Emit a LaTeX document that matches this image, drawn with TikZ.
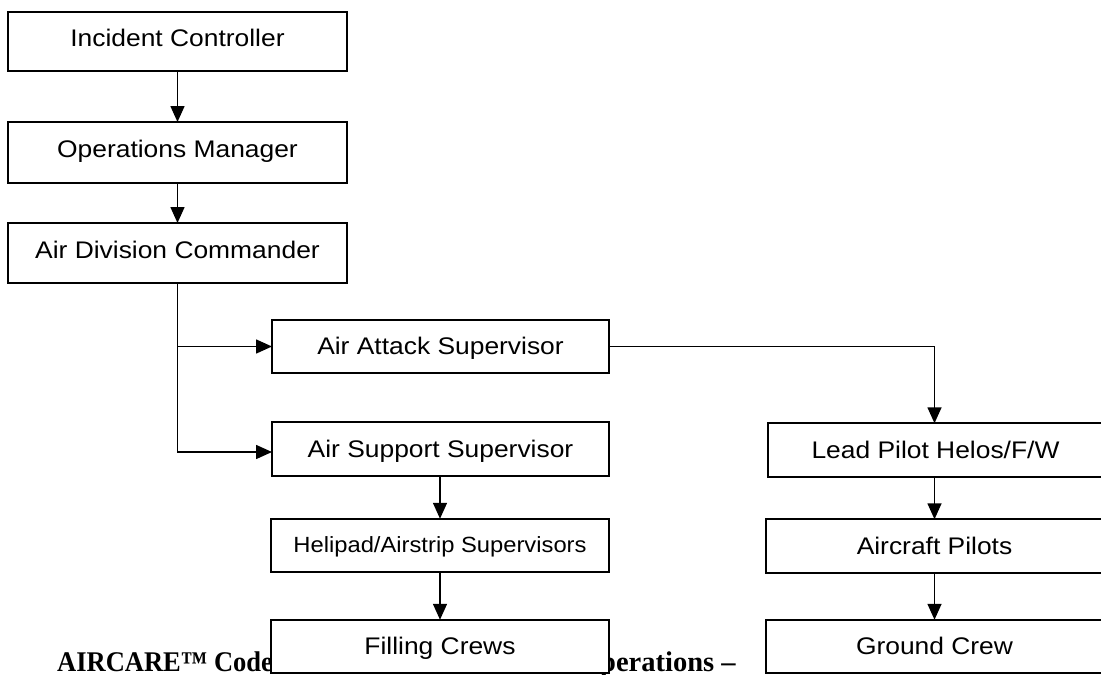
\documentclass[tikz,border=0pt]{standalone}
\usepackage{fontspec}
\setmainfont{Liberation Sans}
\newfontfamily\boxfont[FakeStretch=1.1]{Liberation Sans}
\newfontfamily\boxfontn[FakeStretch=1.08]{Liberation Sans}
\newfontfamily\titlefont[FakeStretch=0.93]{Liberation Serif}
\newfontfamily\titlefontb{Liberation Serif}
\usetikzlibrary{arrows.meta}
\tikzset{
  orgbox/.style={draw, fill=white, line width=2pt, inner sep=0pt, outer sep=0pt,
    font=\boxfont\fontsize{24}{24}\selectfont, text height=17pt},
  bigbox/.style={orgbox, minimum width=339pt, minimum height=60pt, text depth=7pt},
  midbox/.style={orgbox, minimum width=337pt, minimum height=53.5pt, text depth=0.5pt},
  smallfont/.style={font=\boxfontn\fontsize{22}{22}\selectfont, text depth=4pt},
  link/.style={line width=1.6pt, -{Triangle[length=16pt,width=14pt]}},
  titletext/.style={inner sep=0pt, anchor=base west, text=black}
}
\begin{document}
\begin{tikzpicture}[x=1pt, y=-1pt]
\useasboundingbox (0,0) rectangle (1101,675);
% background title (partly hidden by the boxes)
\node[titletext, font=\titlefont\bfseries\fontsize{28.5}{28.5}\selectfont] (t1) at (57,671) {AIRCARE™ Code};
\node[titletext, font=\titlefontb\bfseries\fontsize{28.5}{28.5}\selectfont] (t2) at (600,671) {perations –};
% boxes
\node[bigbox, minimum height=59pt] (ic) at (177.5,41.5) {Incident Controller};
\node[bigbox, minimum height=61pt, text depth=8pt] (om) at (177.5,152.5) {Operations Manager};
\node[bigbox] (adc) at (177.5,253) {Air Division Commander};
\node[midbox] (aa) at (440.5,346.5) {Air Attack Supervisor};
\node[midbox] (as) at (440.5,449) {Air Support Supervisor\hspace{28pt}};
\node[midbox, smallfont, minimum width=338pt] (hs) at (440,545.5) {Helipad/Airstrip Supervisors};
\node[midbox, minimum width=338pt] (fc) at (440,646.5) {Filling Crews};
\node[midbox, minimum width=335pt] (lp) at (935.5,450) {Lead Pilot Helos/F/W};
\node[midbox] (ap) at (934.5,546) {Aircraft Pilots};
\node[midbox] (gc) at (934.5,646.5) {Ground Crew};
% connectors
\draw[link] (ic.south) -- (om.north);
\draw[link] (om.south) -- (adc.north);
\draw[link] (adc.south) |- ([yshift=-3pt]as.west);
\coordinate (br) at (adc.south |- aa.west);
\draw[link] (br) -- (aa.west);
\draw[link] (aa.east) -| (lp.north -| ap.north);
\draw[link] (as.south -| hs.north) -- (hs.north);
\draw[link] (hs.south) -- (fc.north);
\draw[link] (lp.south -| ap.north) -- (ap.north);
\draw[link] (ap.south) -- (gc.north);
\end{tikzpicture}
\end{document}
